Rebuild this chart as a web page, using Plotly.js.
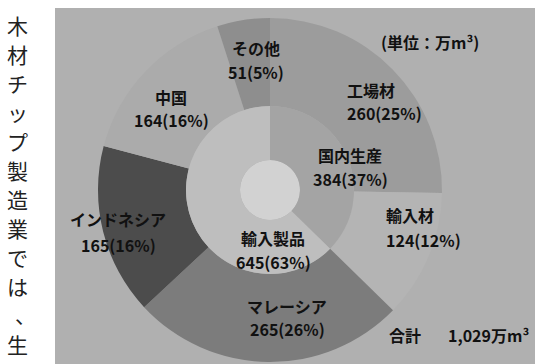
<!DOCTYPE html>
<html>
<head>
<meta charset="utf-8">
<script src="https://cdn.plot.ly/plotly-3.0.1.min.js"></script>
<style>
  html, body { margin: 0; padding: 0; background: #ffffff; overflow: hidden; }
  #chart { width: 535px; height: 364px; }
</style>
</head>
<body>
<div id="chart"></div>
<script>
// 木材チップの供給内訳（単位：万m³）
const outerLabels = ["工場材", "輸入材", "マレーシア", "インドネシア", "中国", "その他"];
const outerValues = [260, 124, 265, 165, 164, 51];
const outerPct    = [25, 12, 26, 16, 16, 5];

const innerLabels = ["国内生産", "輸入製品"];
const innerValues = [384, 645];
const innerPct    = [37, 63];

const sideText = "木材チップ製造業では、生産";

// geometry (pixels)
const W = 535, H = 364;
const cx = 270, cy = 190;      // pie centre, measured from top-left
const R = 172, r1 = 84, r0 = 30;

function domainFor(r) {
  return {
    x: [(cx - r) / W, (cx + r) / W],
    y: [(H - cy - r) / H, (H - cy + r) / H]
  };
}
const px = x => x / W;
const py = y => 1 - y / H;

const outerColors = ["#9c9c9c", "#b4b4b4", "#7c7c7c", "#4c4c4c", "#ababab", "#8e8e8e"];
const innerColors = ["#a4a4a4", "#bebebe"];

const traces = [
  {
    type: "pie", labels: outerLabels, values: outerValues,
    domain: domainFor(R), hole: r1 / R,
    sort: false, direction: "clockwise", rotation: 0,
    marker: { colors: outerColors, line: { width: 0 } },
    textinfo: "none", hoverinfo: "skip", showlegend: false
  },
  {
    type: "pie", labels: innerLabels, values: innerValues,
    domain: domainFor(r1), hole: r0 / r1,
    sort: false, direction: "clockwise", rotation: 0,
    marker: { colors: innerColors, line: { width: 0 } },
    textinfo: "none", hoverinfo: "skip", showlegend: false
  }
];

// label placement: [x, y of name line, y of value line, anchor]
const outerPos = [
  [346, 90, 113, "left"],
  [385, 215, 240, "left"],
  [287, 306, 329, "center"],
  [118, 219, 245, "center"],
  [171, 97, 120, "center"],
  [256, 48, 72, "center"]
];
const innerPos = [
  [350, 155, 179, "center"],
  [273, 238, 262, "center"]
];

const labelFont = { family: "Noto Sans CJK JP, sans-serif", size: 16, color: "#111111" };
const annotations = [];
function addLine(x, y, text, anchor, font) {
  annotations.push({
    xref: "paper", yref: "paper", x: px(x), y: py(y),
    xanchor: anchor, yanchor: "middle", borderpad: 0,
    text: text, showarrow: false, font: font || labelFont
  });
}
outerLabels.forEach((name, i) => {
  const p = outerPos[i];
  addLine(p[0], p[1], "<b>" + name + "</b>", p[3]);
  addLine(p[0], p[2], "<b>" + outerValues[i] + "(" + outerPct[i] + "%)</b>", p[3]);
});
innerLabels.forEach((name, i) => {
  const p = innerPos[i];
  addLine(p[0], p[1], "<b>" + name + "</b>", p[3]);
  addLine(p[0], p[2], "<b>" + innerValues[i] + "(" + innerPct[i] + "%)</b>", p[3]);
});

const total = outerValues.reduce((a, b) => a + b, 0);
addLine(430, 42, "<b>(単位：万m³)</b>", "center");
addLine(388, 335, "<b>合計</b>", "left");
addLine(447, 335, "<b>" + total.toLocaleString("en-US") + "万m³</b>", "left");

// vertical body text on the left margin, one character per cell
const sideFont = { family: "Noto Sans CJK JP, sans-serif", size: 21, color: "#222222" };
sideText.split("").forEach((ch, i) => {
  const y = 25 + i * 29;
  if (ch === "、") addLine(25, y - 1, ch, "center", sideFont);
  else addLine(17, y, ch, "center", sideFont);
});

const layout = {
  width: W, height: H,
  margin: { l: 0, r: 0, t: 0, b: 0 },
  paper_bgcolor: "#ffffff",
  showlegend: false,
  shapes: [
    {
      type: "rect", xref: "paper", yref: "paper", layer: "below",
      x0: px(55), x1: 1, y0: 0, y1: py(8),
      fillcolor: "#b0b0b0", line: { width: 0 }
    },
    {
      // pale disc seen through the centre hole
      type: "circle", xref: "paper", yref: "paper", layer: "below",
      x0: px(cx - r0), x1: px(cx + r0), y0: py(cy + r0), y1: py(cy - r0),
      fillcolor: "#d2d2d2", line: { width: 0 }
    }
  ],
  annotations: annotations
};

Plotly.newPlot("chart", traces, layout, { displayModeBar: false, staticPlot: true });
</script>
</body>
</html>
